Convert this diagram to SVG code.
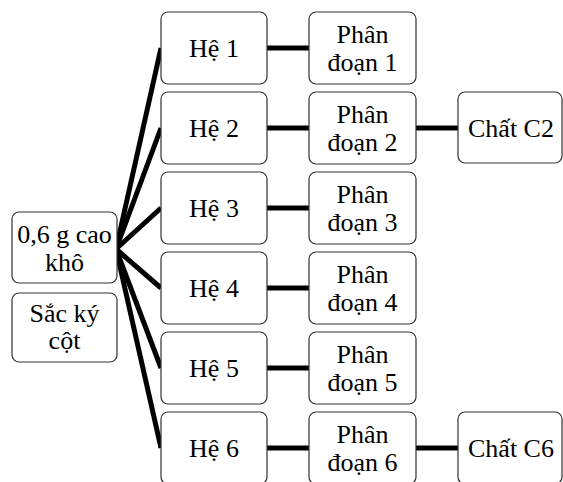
<svg xmlns="http://www.w3.org/2000/svg" width="563" height="482" viewBox="0 0 563 482">
<style>
.box{fill:#fff;stroke:#333;stroke-width:1.2}
.t text{font-size:26px;fill:#000;text-anchor:middle}
.ln{stroke:#000;stroke-width:5;fill:none}
</style>
<rect width="563" height="482" fill="#fff"/>
<g id="connectors">
<line class="ln" x1="116" y1="249" x2="161" y2="48"/>
<line class="ln" x1="116" y1="249" x2="161" y2="128"/>
<line class="ln" x1="116" y1="249" x2="161" y2="208"/>
<line class="ln" x1="116" y1="249" x2="161" y2="288"/>
<line class="ln" x1="116" y1="249" x2="161" y2="368"/>
<line class="ln" x1="116" y1="249" x2="161" y2="448"/>
<line class="ln" x1="267" y1="48" x2="309" y2="48"/>
<line class="ln" x1="267" y1="128" x2="309" y2="128"/>
<line class="ln" x1="267" y1="208" x2="309" y2="208"/>
<line class="ln" x1="267" y1="288" x2="309" y2="288"/>
<line class="ln" x1="267" y1="368" x2="309" y2="368"/>
<line class="ln" x1="267" y1="448" x2="309" y2="448"/>
<line class="ln" x1="416" y1="128" x2="458" y2="128"/>
<line class="ln" x1="416" y1="448" x2="458" y2="448"/>
</g>
<g class="t" font-family="Liberation Serif">
<g id="cao"><rect class="box" x="12" y="212" width="105" height="71" rx="7"/><text x="64.5" y="243">0,6 g cao</text><text x="64.5" y="271">khô</text></g>
<g id="sacky"><rect class="box" x="12" y="293" width="105" height="69" rx="7"/><text x="64.5" y="322">Sắc ký</text><text x="64.5" y="349">cột</text></g>
<g id="he1"><rect class="box" x="161" y="12" width="106" height="72" rx="7"/><text x="214" y="57">Hệ 1</text></g>
<g id="he2"><rect class="box" x="161" y="92" width="106" height="72" rx="7"/><text x="214" y="137">Hệ 2</text></g>
<g id="he3"><rect class="box" x="161" y="172" width="106" height="72" rx="7"/><text x="214" y="217">Hệ 3</text></g>
<g id="he4"><rect class="box" x="161" y="252" width="106" height="72" rx="7"/><text x="214" y="297">Hệ 4</text></g>
<g id="he5"><rect class="box" x="161" y="332" width="106" height="72" rx="7"/><text x="214" y="377">Hệ 5</text></g>
<g id="he6"><rect class="box" x="161" y="412" width="106" height="72" rx="7"/><text x="214" y="457">Hệ 6</text></g>
<g id="pd1"><rect class="box" x="309" y="12" width="107" height="72" rx="7"/><text x="362.5" y="43">Phân</text><text x="362.5" y="71">đoạn 1</text></g>
<g id="pd2"><rect class="box" x="309" y="92" width="107" height="72" rx="7"/><text x="362.5" y="123">Phân</text><text x="362.5" y="151">đoạn 2</text></g>
<g id="pd3"><rect class="box" x="309" y="172" width="107" height="72" rx="7"/><text x="362.5" y="203">Phân</text><text x="362.5" y="231">đoạn 3</text></g>
<g id="pd4"><rect class="box" x="309" y="252" width="107" height="72" rx="7"/><text x="362.5" y="283">Phân</text><text x="362.5" y="311">đoạn 4</text></g>
<g id="pd5"><rect class="box" x="309" y="332" width="107" height="72" rx="7"/><text x="362.5" y="363">Phân</text><text x="362.5" y="391">đoạn 5</text></g>
<g id="pd6"><rect class="box" x="309" y="412" width="107" height="72" rx="7"/><text x="362.5" y="443">Phân</text><text x="362.5" y="471">đoạn 6</text></g>
<g id="c2"><rect class="box" x="458" y="92" width="104" height="71" rx="7"/><text x="511" y="137">Chất C2</text></g>
<g id="c6"><rect class="box" x="458" y="412" width="104" height="72" rx="7"/><text x="511" y="457">Chất C6</text></g>
</g>
</svg>
